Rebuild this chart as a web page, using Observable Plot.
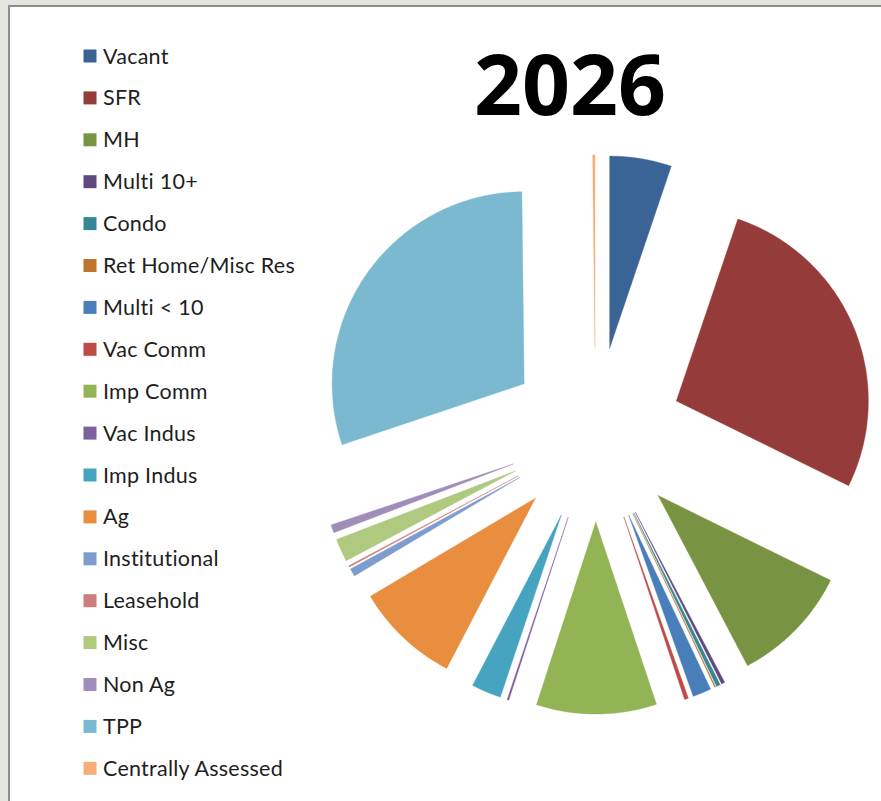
<!DOCTYPE html>
<html>
<head>
<meta charset="utf-8">
<script src="https://cdn.jsdelivr.net/npm/d3@7"></script>
<script src="https://cdn.jsdelivr.net/npm/@observablehq/plot@0.6"></script>
<style>
  html, body { margin: 0; padding: 0; }
  body { width: 881px; height: 801px; overflow: hidden; background: #e6e4df; position: relative; }
  #panel { position: absolute; left: 8px; top: 5px; width: 900px; height: 820px; background: #fff;
           border-left: 2px solid #8d8d8d; border-top: 2px solid #8d8d8d; }
  #pie { position: absolute; left: 315px; top: 134px; }
  #overlay { position: absolute; left: 0; top: 0; }
</style>
</head>
<body>
<div id="panel"></div>
<div id="pie"></div>
<svg id="overlay" width="881" height="801"></svg>
<script>
// ---- data ----
const title = "2026";
const categories = ["Vacant", "SFR", "MH", "Multi 10+", "Condo", "Ret Home/Misc Res", "Multi < 10",
  "Vac Comm", "Imp Comm", "Vac Indus", "Imp Indus", "Ag", "Institutional", "Leasehold", "Misc",
  "Non Ag", "TPP", "Centrally Assessed"];
const values = [5.19, 27.08, 10.03, 0.28, 0.33, 0.08, 1.56, 0.33, 10.11, 0.14, 2.50, 8.81,
  0.67, 0.11, 1.94, 0.69, 29.94, 0.19];
const colors = ["#3a6396", "#953b39", "#789342", "#5f4a7d", "#378596", "#c0732f", "#4a7ebb",
  "#be4b48", "#93b455", "#7d60a0", "#46a4c0", "#e88e3e", "#7e9ccd", "#cd7e7c", "#afc97f",
  "#a08dba", "#7bb9d0", "#f8ac78"];

// ---- geometry (pie in units of radius, y up, angle clockwise from north) ----
const explode = 0.456;
const total = d3.sum(values);
const rows = [];
let cum = 0;
categories.forEach((name, i) => {
  const a0 = cum / total * 2 * Math.PI;
  cum += values[i];
  const a1 = cum / total * 2 * Math.PI;
  const mid = (a0 + a1) / 2;
  const ox = explode * Math.sin(mid), oy = explode * Math.cos(mid);
  rows.push({name, x: ox, y: oy});
  const n = Math.max(2, Math.ceil((a1 - a0) / 0.005));
  for (let k = 0; k <= n; k++) {
    const a = a0 + (a1 - a0) * k / n;
    rows.push({name, x: ox + Math.sin(a), y: oy + Math.cos(a)});
  }
  rows.push({name, x: ox, y: oy});
});

const px = 192; // pixels per radius
const W = 560, H = 600;
const chart = Plot.plot({
  width: W, height: H,
  margin: 0,
  x: {domain: [-W / 2 / px, W / 2 / px], axis: null},
  y: {domain: [-H / 2 / px, H / 2 / px], axis: null},
  color: {domain: categories, range: colors},
  style: {background: "transparent", overflow: "visible"},
  marks: [
    Plot.line(rows, {x: "x", y: "y", z: "name", fill: "name", stroke: "name", strokeWidth: 0.4})
  ]
});
document.getElementById("pie").appendChild(chart);

// ---- title and legend ----
const svg = d3.select("#overlay");
svg.append("text")
  .attr("x", 570).attr("y", 115)
  .attr("text-anchor", "middle")
  .style("font-family", "'Open Sans', sans-serif")
  .style("font-weight", 700)
  .style("font-size", "84px")
  .attr("fill", "#000")
  .text(title);

const leg = svg.append("g");
categories.forEach((name, i) => {
  const cy = 56 + i * 41.9;
  leg.append("rect").attr("x", 83.5).attr("y", cy - 6.5).attr("width", 13).attr("height", 13)
    .attr("fill", colors[i]);
  leg.append("text").attr("x", 103).attr("y", cy + 7.5)
    .style("font-family", "Lato, sans-serif").style("font-size", "21.5px")
    .style("letter-spacing", "0.25px")
    .style("font-variant-ligatures", "none")
    .attr("fill", "#1e1e1e").text(name);
});
</script>
</body>
</html>
